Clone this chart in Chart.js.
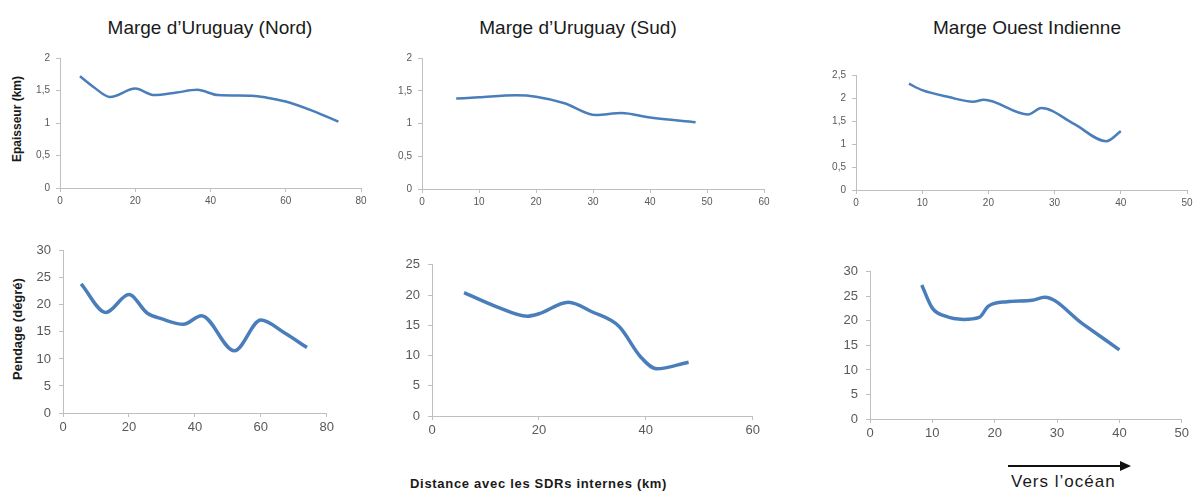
<!DOCTYPE html>
<html>
<head>
<meta charset="utf-8">
<script src="https://cdn.jsdelivr.net/npm/chart.js@4"></script>
<style>
  html, body { margin: 0; padding: 0; background: #fff; }
  body { width: 1196px; height: 491px; position: relative; overflow: hidden; font-family: 'Liberation Sans', Arial, sans-serif; }
  .box { position: absolute; }
  .title { position: absolute; font-size: 19px; color: #1a1a1a; white-space: nowrap; transform: translateX(-50%); }
  .ylab { position: absolute; font-weight: bold; color: #1a1a1a; white-space: nowrap; transform: translate(-50%, -50%) rotate(-90deg); }
</style>
</head>
<body>

<div class="title" style="left:210px; top:17px;">Marge d’Uruguay (Nord)</div>
<div class="title" style="left:578px; top:17px;">Marge d’Uruguay (Sud)</div>
<div class="title" style="left:1027px; top:17px;">Marge Ouest Indienne</div>

<div class="ylab" style="left:17px; top:119px; font-size:12px;">Epaisseur (km)</div>
<div class="ylab" style="left:17px; top:329px; font-size:13px;">Pendage (dégré)</div>

<div style="position:absolute; left:410px; top:476px; font-size:13px; letter-spacing:0.7px; font-weight:bold; color:#1a1a1a; white-space:nowrap;">Distance avec les SDRs internes (km)</div>

<svg style="position:absolute; left:1000px; top:456px;" width="140" height="20">
  <line x1="8" y1="10" x2="124" y2="10" stroke="#111" stroke-width="2"/>
  <polygon points="131,10 120,5 120,15" fill="#111"/>
</svg>
<div style="position:absolute; left:1011px; top:472px; font-size:17px; letter-spacing:1px; color:#1a1a1a; white-space:nowrap;">Vers l’océan</div>

<div class="box" id="b1"><canvas id="c1"></canvas></div>
<div class="box" id="b2"><canvas id="c2"></canvas></div>
<div class="box" id="b3"><canvas id="c3"></canvas></div>
<div class="box" id="b4"><canvas id="c4"></canvas></div>
<div class="box" id="b5"><canvas id="c5"></canvas></div>
<div class="box" id="b6"><canvas id="c6"></canvas></div>

<script>
// Marge d'Uruguay (Nord)
const nordDistE = [5.3, 9, 13.3, 20, 25, 31, 36.5, 42, 51, 55, 60, 67, 74];
const nordEpaisseur = [1.72, 1.55, 1.40, 1.53, 1.43, 1.47, 1.51, 1.43, 1.42, 1.39, 1.33, 1.19, 1.02];
const nordDistP = [5.5, 13, 20, 25.5, 30, 36.5, 42, 52, 60, 67, 74];
const nordPendage = [23.9, 18.6, 21.9, 18.5, 17.4, 16.4, 18.0, 11.5, 17.2, 14.9, 12.1];

// Marge d'Uruguay (Sud)
const sudDistE = [6, 10, 16.5, 20, 25, 30.5, 35, 40, 48];
const sudEpaisseur = [1.38, 1.40, 1.43, 1.41, 1.31, 1.13, 1.16, 1.09, 1.02];
const sudDistP = [6, 12, 17.8, 20, 25.5, 30, 35, 39, 42, 48];
const sudPendage = [20.4, 18.1, 16.5, 16.9, 18.8, 17.2, 14.8, 9.8, 7.8, 8.9];

// Marge Ouest Indienne
const indDistE = [8, 10, 14, 17.7, 19.3, 26, 28, 33, 37.8, 40];
const indEpaisseur = [2.31, 2.17, 2.02, 1.92, 1.96, 1.64, 1.78, 1.43, 1.06, 1.28];
const indDistP = [8.3, 10, 12, 15, 17.5, 19, 22, 26, 28, 34, 40];
const indPendage = [27.3, 22.6, 21.0, 20.3, 20.7, 23.0, 23.9, 24.2, 24.8, 19.5, 14.1];

const lineColor = '#4a7ebb';
const axisColor = '#bfbfbf';
const tickColor = '#595959';
const fontFamily = "'Liberation Sans', Arial, sans-serif";

const Y_W = 40, X_H = 24, PAD_T = 10, PAD_R = 9;

function toPoints(xs, ys) {
  return xs.map((x, i) => ({ x: x, y: ys[i] }));
}

function makeChart(n, area, xs, ys, xMax, xStep, yMax, yStep, fontSize, lineWidth, yPad) {
  const box = document.getElementById('b' + n);
  const w = (area.R - area.L) + Y_W + PAD_R;
  const h = (area.B - area.T) + PAD_T + X_H;
  box.style.left = (area.L - Y_W) + 'px';
  box.style.top = (area.T - PAD_T) + 'px';
  box.style.width = w + 'px';
  box.style.height = h + 'px';
  const ctx = document.getElementById('c' + n);
  ctx.width = w;
  ctx.height = h;

  new Chart(ctx, {
    type: 'scatter',
    data: {
      datasets: [{
        data: toPoints(xs, ys),
        showLine: true,
        borderColor: lineColor,
        borderWidth: lineWidth,
        pointRadius: 0,
        cubicInterpolationMode: 'monotone',
        fill: false
      }]
    },
    options: {
      responsive: false,
      animation: false,
      layout: { padding: { top: PAD_T, right: PAD_R, left: 0, bottom: 0 } },
      plugins: { legend: { display: false }, tooltip: { enabled: false } },
      scales: {
        x: {
          type: 'linear',
          min: 0, max: xMax,
          ticks: { stepSize: xStep, color: tickColor, padding: 3, font: { family: fontFamily, size: fontSize }, maxRotation: 0 },
          grid: { drawOnChartArea: false, drawTicks: true, tickLength: 4, color: axisColor },
          border: { color: axisColor, width: 1 },
          afterFit: s => { s.height = X_H; }
        },
        y: {
          min: 0, max: yMax,
          ticks: {
            stepSize: yStep, color: tickColor, padding: yPad,
            font: { family: fontFamily, size: fontSize },
            callback: v => String(v).replace('.', ',')
          },
          grid: { drawOnChartArea: false, drawTicks: true, tickLength: 4, color: axisColor },
          border: { color: axisColor, width: 1 },
          afterFit: s => { s.width = Y_W; }
        }
      }
    }
  });
}

makeChart(1, { L: 60, R: 361, T: 56, B: 188 }, nordDistE, nordEpaisseur, 80, 20, 2, 0.5, 10, 2.5, 6);
makeChart(2, { L: 422, R: 764, T: 56, B: 189 }, sudDistE, sudEpaisseur, 60, 10, 2, 0.5, 10, 2.5, 6);
makeChart(3, { L: 856, R: 1187, T: 73, B: 190 }, indDistE, indEpaisseur, 50, 10, 2.5, 0.5, 10, 2.5, 6);
makeChart(4, { L: 63, R: 328, T: 245, B: 413 }, nordDistP, nordPendage, 80, 20, 30, 5, 13, 3.5, 8);
makeChart(5, { L: 432, R: 754, T: 259, B: 416 }, sudDistP, sudPendage, 60, 20, 25, 5, 13, 3.5, 8);
makeChart(6, { L: 870, R: 1183, T: 266, B: 419 }, indDistP, indPendage, 50, 10, 30, 5, 13, 3.5, 8);
</script>
</body>
</html>
